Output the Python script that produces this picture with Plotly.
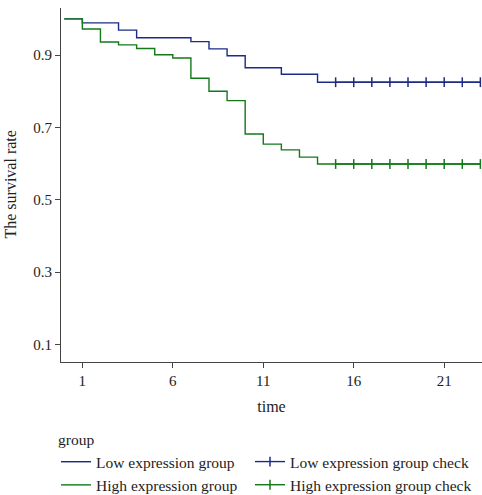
import plotly.graph_objects as go

# Kaplan-Meier step data
time_low = [0, 1, 3, 4, 7, 8, 9, 10, 12, 14, 23]
surv_low = [1.0, 0.989, 0.969, 0.948, 0.937, 0.917, 0.898, 0.865, 0.847, 0.825, 0.825]
time_high = [0, 1, 2, 3, 4, 5, 6, 7, 8, 9, 10, 11, 12, 13, 14, 23]
surv_high = [1.0, 0.972, 0.936, 0.928, 0.918, 0.901, 0.892, 0.836, 0.800, 0.774,
             0.682, 0.654, 0.638, 0.618, 0.599, 0.599]
censor_times = [15, 16, 17, 18, 19, 20, 21, 22, 23]
censor_low = [0.825] * len(censor_times)
censor_high = [0.599] * len(censor_times)

x_ticks = [1, 6, 11, 16, 21]
y_ticks = [0.1, 0.3, 0.5, 0.7, 0.9]

BLUE = "#1c2b86"
GREEN = "#13791a"
FONT = "Liberation Serif"

fig = go.Figure()
fig.add_trace(go.Scatter(x=time_low, y=surv_low, mode="lines", line=dict(shape="hv", color=BLUE, width=1.4),
                         name="Low expression group", legend="legend"))
fig.add_trace(go.Scatter(x=time_high, y=surv_high, mode="lines", line=dict(shape="hv", color=GREEN, width=1.4),
                         name="High expression group", legend="legend"))
fig.add_trace(go.Scatter(x=censor_times, y=censor_low, mode="lines+markers",
                         line=dict(color=BLUE, width=1.4),
                         marker=dict(symbol="line-ns", size=7, line=dict(color=BLUE, width=1.5)),
                         name="Low expression group check", legend="legend2"))
fig.add_trace(go.Scatter(x=censor_times, y=censor_high, mode="lines+markers",
                         line=dict(color=GREEN, width=1.4),
                         marker=dict(symbol="line-ns", size=7, line=dict(color=GREEN, width=1.5)),
                         name="High expression group check", legend="legend2"))

fig.update_layout(
    width=482, height=495,
    margin=dict(l=61, r=0, t=8, b=133, autoexpand=False),
    plot_bgcolor="white", paper_bgcolor="white",
    font=dict(family=FONT, size=16, color="#222"),
    xaxis=dict(range=[-0.18, 23.09], tickvals=x_ticks, ticks="outside", ticklen=5, tickcolor="#444",
               showline=True, linecolor="#444", linewidth=1.2, showgrid=False, zeroline=False,
               automargin=True,
               title=dict(text="time", standoff=12, font=dict(size=16)), tickfont=dict(size=15)),
    yaxis=dict(range=[0.052, 1.03], tickvals=y_ticks, ticks="outside", ticklen=5, tickcolor="#444",
               showline=True, linecolor="#444", linewidth=1.2, showgrid=False, zeroline=False,
               automargin=False, tickfont=dict(size=15)),
    annotations=[dict(text="The survival rate", xref="paper", yref="paper", x=-61 / 421, y=0.5,
                      xanchor="left", yanchor="middle", xshift=-1, textangle=-90, showarrow=False,
                      font=dict(size=16))],
    legend=dict(title=dict(text="group", font=dict(size=15.5)), xref="container", yref="container",
                x=56 / 482, xanchor="left", y=1 - 425 / 495, yanchor="top",
                bgcolor="rgba(0,0,0,0)", tracegroupgap=0, font=dict(size=15.5), itemwidth=30),
    legend2=dict(xref="container", yref="container",
                 x=250 / 482, xanchor="left", y=1 - 445 / 495, yanchor="top",
                 bgcolor="rgba(0,0,0,0)", font=dict(size=15.5), itemwidth=30),
)

fig.write_html("out.html", config={"displayModeBar": False},
               post_script="document.body.style.margin='0';document.body.style.overflow='hidden';")
